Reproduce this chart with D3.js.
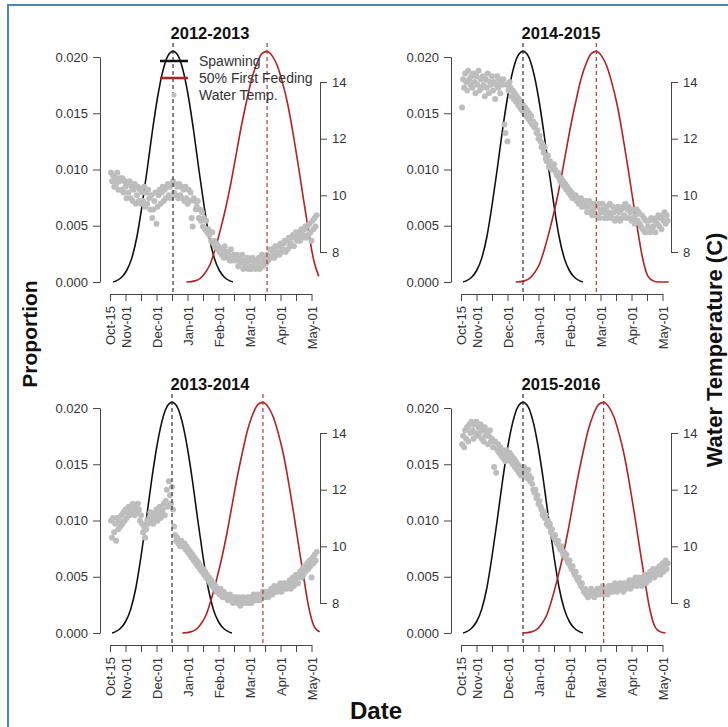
<!DOCTYPE html>
<html>
<head>
<meta charset="utf-8">
<script src="https://cdnjs.cloudflare.com/ajax/libs/d3/7.8.5/d3.min.js"></script>
<style>
body { margin: 0; background: #fff; }
text { font-family: "Liberation Sans", Arial, sans-serif; }
</style>
</head>
<body>
<script>
var width = 728, height = 727;

// panel order: top-left, top-right, bottom-left, bottom-right
var seasons = ["2012-2013", "2014-2015", "2013-2014", "2015-2016"];
var spawnPeak = [61, 60, 60, 60];      // days after Oct-15
var feedPeak = [152, 131, 148, 138];
var lastDay = 203;

// curve shapes (days from peak, proportion)
var spawnOffsets = [-58, -55, -50, -45, -40, -35, -30, -25, -20, -15, -10, -5, 0, 5, 10, 15, 20, 25, 30, 35, 40, 45, 50, 55, 58];
var spawnValues = [0, 0.0001, 0.0004, 0.0010, 0.0021, 0.0040, 0.0068, 0.0100, 0.0134, 0.0164, 0.0187, 0.0201, 0.0205,
  0.0201, 0.0187, 0.0164, 0.0134, 0.0100, 0.0068, 0.0040, 0.0021, 0.0010, 0.0004, 0.0001, 0];
var feedOffsets = [-78, -70, -65, -60, -55, -50, -45, -40, -35, -30, -25, -20, -15, -10, -5, 0, 5, 10, 15, 20, 25, 30, 35, 40, 45, 50, 55, 60, 70];
var feedValues = [0, 0.0001, 0.0003, 0.0008, 0.0016, 0.0030, 0.0047, 0.0066, 0.0088, 0.0113, 0.0138, 0.0160, 0.0180, 0.0194, 0.0203, 0.0205,
  0.0201, 0.0192, 0.0177, 0.0158, 0.0133, 0.0105, 0.0075, 0.0046, 0.0020, 0.0005, 0.0001, 0, 0];

// daily water temperature (C), day 1 = Oct-16
var temp1213 = [
  10.8,10.5,10.7,10.3,10.6,10.4,10.8,10.2,10.5,10.6, 10.2,10.6,10.1,10.5,10.3,9.9,10.4,10.1,10.5,9.9,
  10.3,9.8,10.2,10.4,9.7,10.0,10.3,9.8,10.2,9.7, 10.1,9.8,10.3,9.6,10.1,9.7,10.2,9.9,9.5,10.0,
  9.2,9.5,9.8,10.1,9.0,9.6,10.0,10.2,9.7,10.1, 10.3,9.8,10.2,9.9,10.3,10.4,10.0,10.3,9.9,10.4,
  10.5,10.1,10.4,10.0,10.3,9.9,10.4,10.0,10.3,9.9, 10.2,9.8,10.3,9.9,9.7,10.2,9.8,10.1,9.2,8.9,
  9.9,9.8,9.5,9.6,9.8,9.2,9.5,9.1,9.4,8.9, 9.2,8.8,9.1,8.7,8.8,8.6,8.7,8.4,8.7,8.3,
  8.4,8.2,8.3,8.1,8.2,8.0,8.1,7.9,8.1,7.8, 8.2,7.9,8.0,7.8,7.9,7.7,8.1,7.7,7.8,7.9,
  7.7,7.8,7.9,7.5,7.8,7.6,7.7,7.9,7.4,7.7, 7.5,7.6,7.8,7.4,7.5,7.7,7.4,7.8,7.5,7.6,
  7.4,7.7,7.5,7.8,7.4,7.6,7.9,7.5,7.7,7.8, 7.6,7.9,7.7,7.8,8.1,7.8,7.9,8.1,7.8,8.2,
  7.9,8.0,8.2,7.9,8.3,8.0,8.1,8.3,8.4,8.0, 8.4,8.1,8.5,8.2,8.3,8.5,8.6,8.2,8.5,8.7,
  8.4,8.5,8.7,8.4,8.8,8.5,8.6,8.8,8.9,8.5, 8.9,8.6,9.0,8.7,8.4,9.1,8.8,9.2,8.9,9.3
];
var temp1415 = [
  13.1,14.1,13.8,14.3,14.0,13.7,14.4,14.1,13.9,14.2, 13.8,14.3,14.0,13.6,14.2,13.9,14.4,13.7,14.1,13.8,
  14.2,13.9,13.5,14.1,13.8,14.3,13.6,14.0,13.9,14.2, 13.7,14.0,13.4,13.9,14.2,13.8,14.1,13.6,14.0,13.9,
  14.1,12.5,12.2,13.9,11.9,13.7,14.0,13.8,13.5,13.7, 13.4,13.6,13.3,13.5,13.2,13.4,13.1,13.3,13.0,13.2,
  12.9,13.1,12.8,13.0,12.7,12.9,12.6,12.8,12.5,12.6, 12.4,12.5,12.2,12.3,12.0,12.1,11.9,11.7,11.8,11.5,
  11.7,11.3,11.2,11.4,11.0,11.2,11.1,10.9,11.0,11.1, 10.9,10.8,10.7,10.8,10.6,10.5,10.6,10.4,10.5,10.3,
  10.4,10.2,10.3,10.1,10.2,10.0,10.1,9.9,10.0,9.9, 10.0,9.8,9.9,9.7,9.8,9.9,9.6,9.8,9.7,9.6,
  9.8,9.4,9.6,9.8,9.4,9.7,9.3,9.5,9.7,9.3, 9.6,9.3,9.7,9.2,9.5,9.4,9.7,9.5,9.2,9.4,
  9.6,9.2,9.4,9.7,9.3,9.2,9.6,9.4,9.1,9.5, 9.2,9.6,9.4,9.1,9.5,9.2,9.6,9.3,9.7,9.2,
  9.5,9.6,9.2,9.4,9.1,9.5,9.2,9.0,9.3,9.5, 9.1,9.4,9.0,8.9,9.3,8.8,9.2,8.7,9.1,8.7,
  8.9,9.1,8.7,9.2,8.8,8.9,9.1,8.7,9.2,9.0, 9.3,8.9,9.2,8.8,9.3,9.1,9.4,9.0,9.3,9.1
];
var temp1314 = [
  10.9,10.3,11.0,10.5,10.8,10.2,11.0,10.6,10.9,10.7, 11.1,10.8,11.2,10.9,11.3,11.0,11.2,11.4,11.1,11.3,
  11.2,11.5,11.3,11.1,11.4,11.2,11.5,11.3,10.9,11.1, 10.8,10.5,10.7,10.3,10.6,10.9,10.8,11.0,11.2,10.9,
  11.1,10.8,11.0,11.2,11.3,10.9,11.1,11.4,11.0,11.2, 11.3,11.5,11.1,11.6,12.0,11.4,12.3,11.8,11.5,12.1,
  11.3,10.7,10.4,10.2,10.3,10.1,10.2,10.0,10.2,10.1, 10.0,10.1,9.9,10.0,9.8,9.9,9.7,9.8,9.6,9.7,
  9.5,9.6,9.4,9.5,9.3,9.4,9.2,9.3,9.1,9.2, 9.0,9.1,8.9,9.0,8.8,8.9,8.7,8.8,8.6,8.7,
  8.5,8.6,8.4,8.5,8.4,8.3,8.5,8.3,8.2,8.4, 8.3,8.2,8.3,8.1,8.2,8.3,8.1,8.2,8.0,8.2,
  8.1,8.2,8.0,8.1,8.2,7.9,8.1,8.0,8.2,8.1, 8.0,8.1,8.2,8.0,8.1,8.2,8.0,8.1,8.3,8.1,
  8.2,8.1,8.3,8.2,8.1,8.3,8.2,8.4,8.2,8.3, 8.3,8.4,8.2,8.4,8.3,8.5,8.3,8.4,8.6,8.4,
  8.5,8.4,8.6,8.5,8.7,8.4,8.6,8.5,8.7,8.6, 8.5,8.7,8.6,8.8,8.5,8.7,8.9,8.6,8.8,9.0,
  8.9,8.7,9.0,9.1,8.9,9.2,9.0,9.3,9.1,9.2, 9.4,9.2,9.5,9.3,8.9,9.6,9.4,9.7,9.5,9.8
];
var temp1516 = [
  13.6,13.9,13.5,14.1,13.8,14.2,13.7,14.3,14.0,14.4, 14.1,13.8,14.3,14.0,14.4,13.9,14.2,14.0,14.3,13.8,
  14.1,13.7,14.2,13.9,14.0,13.6,13.9,14.1,13.7,13.8, 13.5,12.8,13.7,12.6,13.4,13.6,13.3,13.5,13.2,13.4,
  13.1,13.3,13.0,13.4,13.2,13.1,13.3,13.0,13.2,12.9, 13.1,12.8,13.0,12.7,12.9,12.6,12.8,12.5,12.7,12.6,
  12.8,12.5,12.6,12.4,12.7,12.5,12.3,12.4,12.2,12.0, 11.9,12.0,11.7,11.8,11.5,11.6,11.4,11.3,11.1,11.2,
  11.0,11.1,10.8,10.9,10.7,10.8,10.5,10.6,10.4,10.3, 10.4,10.2,10.1,10.2,10.0,9.9,10.0,9.8,9.7,9.8,
  9.6,9.7,9.5,9.4,9.5,9.3,9.2,9.3,9.1,9.0, 9.1,8.9,8.8,8.9,8.7,8.6,8.7,8.5,8.4,8.5,
  8.3,8.4,8.2,8.4,8.3,8.5,8.3,8.4,8.2,8.4, 8.3,8.5,8.4,8.3,8.5,8.4,8.6,8.3,8.5,8.4,
  8.5,8.3,8.6,8.4,8.5,8.6,8.4,8.5,8.7,8.5, 8.4,8.6,8.5,8.7,8.5,8.6,8.4,8.7,8.6,8.5,
  8.7,8.6,8.8,8.5,8.7,8.6,8.8,8.7,8.9,8.6, 8.8,8.7,8.9,8.8,8.6,8.9,8.8,9.0,8.7,8.9,
  9.0,8.8,9.1,8.9,9.0,9.2,8.9,9.1,9.0,9.2, 9.1,9.3,9.0,9.2,9.4,9.1,9.3,9.5,9.2,9.4
];
var tempSeries = [temp1213, temp1415, temp1314, temp1516];

var propTicks = [0, 0.005, 0.010, 0.015, 0.020];
var tempTicks = [8, 10, 12, 14];
var xTickDays = [0, 15, 30, 45, 60, 75, 90, 105, 120, 135, 150, 165, 180, 195];
var xTickLabels = ["Oct-15", "Nov-01", "", "Dec-01", "", "Jan-01", "", "Feb-01", "", "Mar-01", "", "Apr-01", "", "May-01"];
var legendLabels = ["Spawning", "50% First Feeding", "Water Temp."];

var blackCol = "#111111", redCol = "#b22222", grayCol = "#bdbdbd", axisCol = "#444444", labelCol = "#333333";

var svg = d3.select("body").append("svg").attr("width", width).attr("height", height);
svg.append("rect").attr("width", width).attr("height", height).attr("fill", "#fff");

// frame
svg.append("line").attr("x1", 7).attr("y1", 5).attr("x2", width).attr("y2", 5)
  .attr("stroke", "#4f81bd").attr("stroke-width", 2);
svg.append("line").attr("x1", 8).attr("y1", 4).attr("x2", 8).attr("y2", height)
  .attr("stroke", "#4f81bd").attr("stroke-width", 2);

var origins = [[0, 0], [351, 0], [0, 351], [351, 351]];

function styleAxis(g) {
  g.selectAll("path").attr("stroke", axisCol).attr("stroke-width", 1);
  g.selectAll("line").attr("stroke", axisCol).attr("stroke-width", 1);
  g.selectAll("text").attr("fill", labelCol).attr("font-size", 13)
    .attr("font-family", "'Liberation Sans', Arial, sans-serif");
}

origins.forEach(function(o, p) {
  var ox = o[0], oy = o[1];
  var x = d3.scaleLinear().domain([0, 195]).range([ox + 110, ox + 311.5]);
  var y = d3.scaleLinear().domain([0, 0.02]).range([oy + 282, oy + 57]);
  var yT = d3.scaleLinear().domain([8, 14]).range([oy + 252, oy + 82]);

  // title
  svg.append("text")
    .attr("x", ox + 210).attr("y", oy + 39)
    .attr("text-anchor", "middle")
    .attr("font-size", 16.5).attr("font-weight", "bold").attr("fill", "#111")
    .text(seasons[p]);

  // left axis
  var gl = svg.append("g").attr("transform", "translate(" + (ox + 100) + ",0)")
    .call(d3.axisLeft(y).tickValues(propTicks).tickFormat(d3.format(".3f")).tickSize(7).tickSizeOuter(0).tickPadding(5));
  styleAxis(gl);

  // right axis
  var gr = svg.append("g").attr("transform", "translate(" + (ox + 320) + ",0)")
    .call(d3.axisRight(yT).tickValues(tempTicks).tickFormat(d3.format("d")).tickSize(7).tickSizeOuter(0).tickPadding(5));
  styleAxis(gr);

  // bottom axis
  var gb = svg.append("g").attr("transform", "translate(0," + (oy + 294) + ")")
    .call(d3.axisBottom(x).tickValues(xTickDays).tickFormat(function(d, i) { return xTickLabels[i]; })
      .tickSize(7).tickSizeOuter(0));
  styleAxis(gb);
  gb.selectAll("text")
    .attr("transform", "rotate(-90)")
    .attr("x", -12).attr("y", 0).attr("dy", "0.38em")
    .attr("text-anchor", "end");

  // spawning and first feeding curves
  var spawn = spawnOffsets.map(function(d, i) { return [spawnPeak[p] + d, spawnValues[i]]; });
  var feed = feedOffsets.map(function(d, i) { return [feedPeak[p] + d, feedValues[i]]; })
    .filter(function(d) { return d[0] <= lastDay; });
  var line = d3.line().x(function(d) { return x(d[0]); }).y(function(d) { return y(d[1]); }).curve(d3.curveMonotoneX);

  svg.append("path").attr("d", line(spawn)).attr("fill", "none")
    .attr("stroke", blackCol).attr("stroke-width", 1.6);
  svg.append("path").attr("d", line(feed)).attr("fill", "none")
    .attr("stroke", redCol).attr("stroke-width", 1.6);

  // water temperature points
  svg.append("g").selectAll("circle")
    .data(tempSeries[p])
    .enter()
    .append("circle")
    .attr("cx", function(d, i) { return x(i + 1); })
    .attr("cy", function(d) { return yT(d); })
    .attr("r", 3)
    .attr("fill", grayCol);

  // peak lines
  svg.append("line")
    .attr("x1", x(spawnPeak[p])).attr("x2", x(spawnPeak[p]))
    .attr("y1", oy + 43).attr("y2", oy + 294)
    .attr("stroke", "#333").attr("stroke-width", 1.2).attr("stroke-dasharray", "4,3");
  svg.append("line")
    .attr("x1", x(feedPeak[p])).attr("x2", x(feedPeak[p]))
    .attr("y1", oy + 43).attr("y2", oy + 294)
    .attr("stroke", "#b03a3a").attr("stroke-width", 1.2).attr("stroke-dasharray", "4,3");

  // legend in first panel
  if (p == 0) {
    var lg = svg.append("g").attr("transform", "translate(" + (ox + 160) + "," + (oy + 61) + ")");
    lg.append("line").attr("x1", 0).attr("x2", 28).attr("y1", 0).attr("y2", 0)
      .attr("stroke", blackCol).attr("stroke-width", 2.5);
    lg.append("line").attr("x1", 0).attr("x2", 28).attr("y1", 17).attr("y2", 17)
      .attr("stroke", redCol).attr("stroke-width", 2.5);
    lg.append("circle").attr("cx", 14).attr("cy", 34).attr("r", 2.5).attr("fill", grayCol);
    lg.selectAll("text.leg")
      .data(legendLabels)
      .enter()
      .append("text")
      .attr("class", "leg")
      .attr("x", 39)
      .attr("y", function(d, i) { return i * 17 + 5; })
      .attr("font-size", 14)
      .attr("fill", labelCol)
      .text(function(d) { return d; });
  }
});

// shared axis titles
svg.append("text")
  .attr("transform", "translate(37,334) rotate(-90)")
  .attr("text-anchor", "middle")
  .attr("font-size", 21).attr("font-weight", "bold").attr("fill", "#111")
  .text("Proportion");
svg.append("text")
  .attr("transform", "translate(722,350) rotate(-90)")
  .attr("text-anchor", "middle")
  .attr("font-size", 22).attr("font-weight", "bold").attr("fill", "#111")
  .text("Water Temperature (C)");
svg.append("text")
  .attr("x", 376).attr("y", 719)
  .attr("text-anchor", "middle")
  .attr("font-size", 24).attr("font-weight", "bold").attr("fill", "#111")
  .text("Date");
</script>
</body>
</html>
